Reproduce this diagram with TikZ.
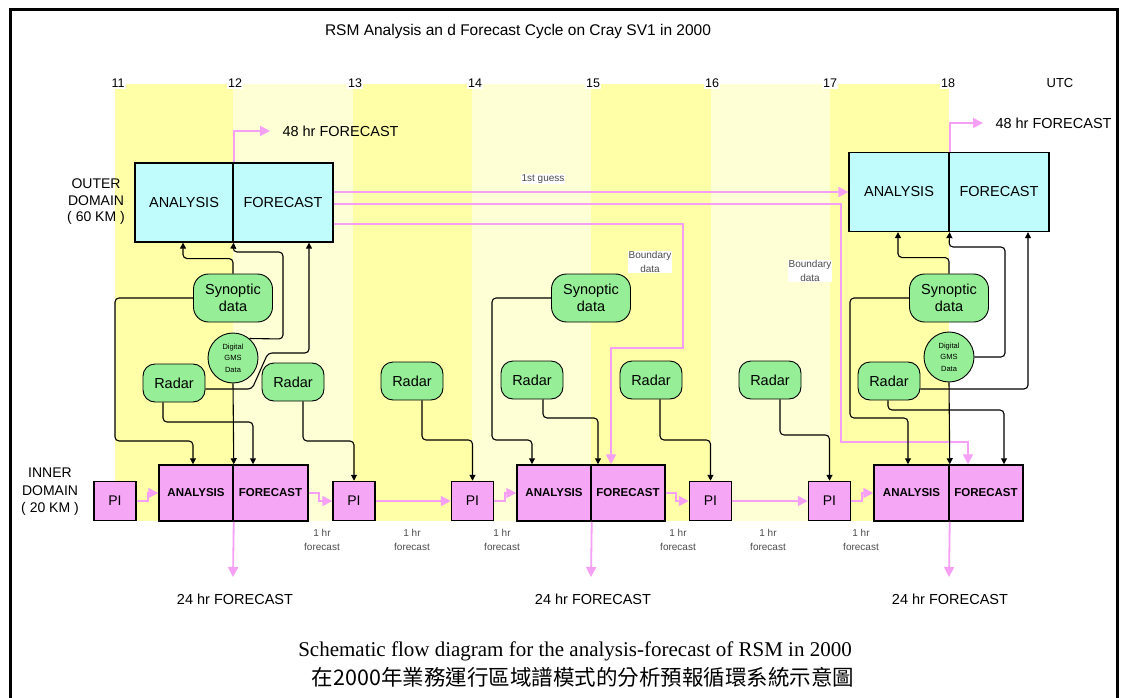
\documentclass[tikz,border=0pt]{standalone}
\usepackage{fontspec}
\setmainfont{Liberation Sans}
\newfontfamily\capserif{Liberation Serif}
\newfontfamily\cjkfont{Noto Sans CJK TC}
\usetikzlibrary{arrows.meta}
\definecolor{ystrong}{RGB}{255,255,168}
\definecolor{ylight}{RGB}{255,255,214}
\definecolor{cyanbox}{RGB}{192,252,252}
\definecolor{pinkbox}{RGB}{245,166,245}
\definecolor{greenbox}{RGB}{150,238,150}
\definecolor{pinkline}{RGB}{245,160,245}
\newcommand\fsz[2]{\fontsize{#1}{#2}\selectfont}
\begin{document}
\begin{tikzpicture}[x=1pt,y=-1pt,
  hour/.style={fill=white, inner sep=1.5pt, font=\fsz{12.5}{14}},
  obox/.style={draw, line width=1.3pt, fill=cyanbox, minimum height=79pt, inner sep=0pt, font=\fsz{14.5}{17}},
  ibox/.style={draw, line width=1.5pt, fill=pinkbox, minimum height=56pt, inner sep=0pt, font=\bfseries\fsz{11.5}{14}},
  pibox/.style={draw, line width=1.5pt, fill=pinkbox, minimum width=42pt, minimum height=39pt, inner sep=0pt, font=\fsz{14}{16}},
  synbox/.style={draw, line width=0.9pt, fill=greenbox, rounded corners=15pt, minimum width=79pt, minimum height=48pt, inner sep=0pt, align=center, font=\fsz{14.5}{17}},
  radbox/.style={draw, line width=0.9pt, fill=greenbox, rounded corners=12pt, minimum width=62pt, minimum height=38pt, inner sep=0pt, font=\fsz{14.5}{17}},
  gmsnode/.style={circle, draw, line width=0.9pt, fill=greenbox, minimum size=50pt, inner sep=0pt, align=center, font=\fsz{7.5}{11.5}},
  blk/.style={line width=1.1pt, -{Triangle[length=6pt,width=6pt]}, rounded corners=4pt},
  pk/.style={draw=pinkline, line width=1.8pt, -{Triangle[length=10pt,width=10pt]}},
  note/.style={fill=white, inner sep=1pt, align=center, text=black!70, font=\fsz{10}{13.5}},
  big/.style={font=\fsz{14.5}{17}, align=center}
]
\useasboundingbox (0,0) rectangle (1122,698);
\fill[white] (0,0) rectangle (1122,698);
% frame
\draw[line width=3pt] (10,698) -- (10,10) -- (1117,10) -- (1117,698);
% hour columns
\fill[ystrong] (115,84) rectangle (233,521);
\fill[ylight]  (233,84) rectangle (353,521);
\fill[ystrong] (353,84) rectangle (472,521);
\fill[ylight]  (472,84) rectangle (591,521);
\fill[ystrong] (591,84) rectangle (711,521);
\fill[ylight]  (711,84) rectangle (830,521);
\fill[ystrong] (830,84) rectangle (949,521);
% title
\node[font=\fsz{15.5}{17}] (title) at (518,31) {RSM Analysis an d Forecast Cycle on Cray SV1 in 2000};
\foreach \h/\x in {11/118,12/235,13/355,14/475,15/593,16/712,17/830,18/948}
  \node[hour] (h\h) at (\x,83) {\h};
\node[font=\fsz{13}{15}] (utc) at (1060,83) {UTC};

% outer boxes
\node[obox, minimum width=98pt] (oa1) at (184,202.5) {ANALYSIS};
\node[obox, minimum width=100pt] (of1) at (283,202.5) {FORECAST};
\node[obox, minimum width=100pt] (oa2) at (899,192) {ANALYSIS};
\node[obox, minimum width=100pt] (of2) at (999,192) {FORECAST};
\node[big, font=\fsz{14}{16.5}] (outerlbl) at (96,202) {OUTER\\DOMAIN\\( 60 KM )};

% inner boxes
\node[ibox, minimum width=74pt] (ia1) at (196,493) {ANALYSIS};
\node[ibox, minimum width=75pt] (if1) at (270.5,493) {FORECAST};
\node[ibox, minimum width=74pt] (ia2) at (554,493) {ANALYSIS};
\node[ibox, minimum width=74pt] (if2) at (628,493) {FORECAST};
\node[ibox, minimum width=75pt] (ia3) at (911.5,493) {ANALYSIS};
\node[ibox, minimum width=74pt] (if3) at (986,493) {FORECAST};
\node[pibox] (pi0) at (115,501) {PI};
\node[pibox] (pi1) at (354,501) {PI};
\node[pibox] (pi2) at (472.5,501) {PI};
\node[pibox] (pi3) at (710.5,501) {PI};
\node[pibox] (pi4) at (829.5,501) {PI};
\node[big, font=\fsz{14}{17.5}] (innerlbl) at (50,492) {INNER\\DOMAIN\\( 20 KM )};

% green data nodes
\node[synbox] (syn1) at (233,298) {Synoptic\\data};
\node[synbox] (syn2) at (591,298) {Synoptic\\data};
\node[synbox] (syn3) at (949,298) {Synoptic\\data};
\node[gmsnode] (gms1) at (233,358) {Digital\\GMS\\Data};
\node[gmsnode] (gms3) at (949,357) {Digital\\GMS\\Data};
\node[radbox] (rad1) at (174,383) {Radar};
\node[radbox] (rad2) at (293,382) {Radar};
\node[radbox] (rad3) at (412,381) {Radar};
\node[radbox] (rad4) at (532,380) {Radar};
\node[radbox] (rad5) at (651,380) {Radar};
\node[radbox] (rad6) at (770,380) {Radar};
\node[radbox] (rad7) at (889,381) {Radar};

% small notes
\node[note] (guess) at (543,179) {1st guess};
\node[note] (bd1) at (650,262) {Boundary\\data};
\node[note] (bd2) at (810,271) {Boundary\\data};
\foreach \n/\x in {a/322,b/412,c/502,d/678,e/768,f/861}
  \node[note, fill=none] (hr\n) at (\x,540) {1 hr\\forecast};

% forecast labels
\node[big, anchor=west] (f48a) at (279,131) {48 hr FORECAST};
\node[big, anchor=west] (f48b) at (992,123) {48 hr FORECAST};
\node[big] (f24a) at (235,599) {24 hr FORECAST};
\node[big] (f24b) at (593,599) {24 hr FORECAST};
\node[big] (f24c) at (950,599) {24 hr FORECAST};
\coordinate (e24a) at (233,577);
\coordinate (e24b) at (591,577);
\coordinate (e24c) at (949,577);

% caption
\node[font=\capserif\fsz{21}{24}] (cap1) at (575,651) {Schematic flow diagram for the analysis-forecast of RSM in 2000};
\node[font=\cjkfont\fsz{21.5}{24}] (cap2) at (583,677) {在2000年業務運行區域譜模式的分析預報循環系統示意圖};

% pink connectors
\draw[pk] (oa1.north east) |- ([xshift=-9pt]f48a.west);
\draw[pk] (oa2.north east) |- ([xshift=-9pt]f48b.west);
\draw[pk] (of1.east |- oa2.west) -- (oa2.west);
\draw[pk] ([yshift=-1.5pt]of1.east) -- (841,204) -- (841,442) -- (968,442) -- ([xshift=-18pt]if3.north);
\draw[pk] ([yshift=-21.5pt]of1.east) -- (683,224) -- (683,348) -- (611,348) -- ([xshift=-17pt]if2.north);
\draw[pk] (ia1.south east) -- (e24a);
\draw[pk] (ia2.south east) -- (e24b);
\draw[pk] (ia3.south east) -- (e24c);
\draw[pk] (pi0.east) -- ++(11,0) |- (ia1.west);
\draw[pk] (if1.east) -- ++(10,0) |- (pi1.west);
\draw[pk] (pi1.east) -- (pi2.west);
\draw[pk] (pi2.east) -- ++(11,0) |- (ia2.west);
\draw[pk] (if2.east) -- ++(10,0) |- (pi3.west);
\draw[pk] (pi3.east) -- (pi4.west);
\draw[pk] (pi4.east) -- ++(11,0) |- (ia3.west);

% black connectors, left group
\draw[blk] (syn1.north) -- ++(0,-15) -| ([xshift=-1pt]oa1.south);
\draw[blk] (gms1.50) -- (283,339) -- (283,252) -- (233,252) -- (oa1.south east);
\draw[blk] ([yshift=-6pt]rad1.east) -- (252,389) -- (268,353) -- (309,353) -- ([xshift=26pt]of1.south);
\draw[blk] (syn1.west) -| (115,441) -| ([xshift=-3pt]ia1.north);
\draw[blk] (gms1.south) -- (ia1.north east);
\draw[blk] ([xshift=-11pt]rad1.south) -- (163,422) -- (253,422) -- ([xshift=-17.5pt]if1.north);
\draw[blk] ([xshift=10pt]rad2.south) -- (303,441) -- (354,441) -- (pi1.north);
% middle group
\draw[blk] ([xshift=10pt]rad3.south) -- (422,440) -- (472.5,440) -- (pi2.north);
\draw[blk] (syn2.west) -| (492,440) -| ([xshift=-22pt]ia2.north);
\draw[blk] ([xshift=11pt]rad4.south) -- (543,418) -- (598,418) -- ([xshift=-30pt]if2.north);
\draw[blk] ([xshift=9pt]rad5.south) -- (660,440) -- (710.5,440) -- (pi3.north);
\draw[blk] ([xshift=10pt]rad6.south) -- (780,435) -- (829.5,435) -- (pi4.north);
% right group
\draw[blk] (syn3.north) -- ++(0,-16) -| ([xshift=-1pt]oa2.south);
\draw[blk] (gms3.east) -- (1005,357) -- (1005,247) -- (949,247) -- (oa2.south east);
\draw[blk] ([yshift=-8pt]rad7.east) -- (1028,389) -- ([xshift=29pt]of2.south);
\draw[blk] (syn3.west) -| (850,418) -| ([xshift=-3.5pt]ia3.north);
\draw[blk] (gms3.south) -- (ia3.north east);
\draw[blk] ([xshift=-1pt]rad7.south) -- (888,410) -- (1004,410) -- ([xshift=18pt]if3.north);
\end{tikzpicture}
\end{document}
